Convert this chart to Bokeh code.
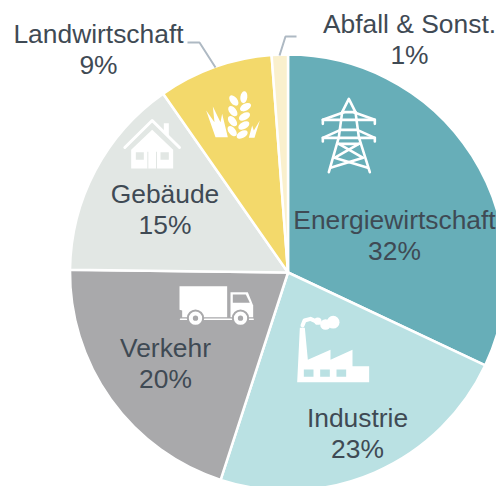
from math import pi
from bokeh.plotting import figure
from bokeh.models import Range1d
from bokeh.core.properties import value
from bokeh.embed import file_html
from bokeh.resources import INLINE

categories = ["Energiewirtschaft", "Industrie", "Verkehr", "Gebäude", "Landwirtschaft", "Abfall & Sonst."]
shares = [32.0, 23.0, 20.2, 15.1, 8.5, 1.2]
share_labels = ["32%", "23%", "20%", "15%", "9%", "1%"]
colors = ["#67AEB8", "#BAE1E3", "#A9A9AB", "#E2E7E4", "#F3D96B", "#FAF0CD"]
label_pos = [(394, 219), (357, 417), (165, 347), (164.5, 193), (98, 33), (409, 23)]
TEXT = "#3F4A54"
CX, CY, R = 287.5, 272, 218

W, H = 496, 486
p = figure(width=W, height=H, x_range=Range1d(0, 496), y_range=Range1d(486, 0),
           output_backend="svg", toolbar_location=None, min_border=0, outline_line_color=None,
           background_fill_color="white", border_fill_color="white")
p.axis.visible = False
p.grid.visible = False

cum = 0
total = sum(shares)
starts, ends = [], []
for s in shares:
    starts.append(pi / 2 - 2 * pi * cum / total)
    cum += s
    ends.append(pi / 2 - 2 * pi * cum / total)
p.wedge(x=[CX] * 6, y=[CY] * 6, radius=R, start_angle=starts, end_angle=ends, direction="clock",
        fill_color=colors, line_color="white", line_width=2.5)

# leader lines
p.line([187, 199, 215], [42, 42, 67], line_color="#AEB9C3", line_width=2)
p.line([296, 285, 279], [36, 36, 55], line_color="#AEB9C3", line_width=2)

WHITE = "white"
def zoomed(ox, oy, pts):
    return [ox + a / 3 for a, b in pts], [oy + b / 3 for a, b in pts]
def poly(ox, oy, pts, color=WHITE):
    xs, ys = zoomed(ox, oy, pts)
    p.patch(xs, ys, fill_color=color, line_color=None)
def stroke(ox, oy, pts, w=2.6, color=WHITE):
    xs, ys = zoomed(ox, oy, pts)
    p.line(xs, ys, line_color=color, line_width=w, line_join="round", line_cap="round")
def circle(ox, oy, c, r, color=WHITE):
    p.circle([ox + c[0] / 3], [oy + c[1] / 3], radius=r / 3, fill_color=color, line_color=None)

# pylon icon
for pts in [
    [(145, 275), (175, 170), (185, 95), (205, 55), (225, 95), (235, 170), (268, 275)],
    [(127, 130), (127, 118), (190, 95)], [(283, 130), (283, 118), (220, 95)], [(127, 118), (283, 118)],
    [(127, 183), (127, 172), (180, 148)], [(283, 183), (283, 172), (230, 148)], [(127, 172), (283, 172)],
    [(185, 95), (225, 95)], [(180, 148), (230, 148)],
    [(175, 190), (248, 232), (150, 262)], [(235, 190), (162, 232), (262, 262)], [(175, 190), (235, 190)],
]:
    stroke(280, 80, pts)

# house icon
H_BG = colors[3]
stroke(110, 80, [(43, 201), (125, 120), (207, 201)], 3)
poly(110, 80, [(160, 128), (175, 128), (175, 170), (160, 155)])
poly(110, 80, [(62, 208), (125, 148), (188, 208), (188, 264), (62, 264)])
poly(110, 80, [(76, 215), (100, 215), (100, 238), (76, 238)], H_BG)
poly(110, 80, [(150, 215), (175, 215), (175, 238), (150, 238)], H_BG)
stroke(110, 80, [(112, 215), (112, 264)], 1, H_BG)
stroke(110, 80, [(138, 215), (138, 264)], 1, H_BG)

# wheat icon
grains = [(370, 60, 0.9), (367, 92, 0.9), (366, 122, 0.9), (365, 152, 0.9),
          (400, 50, 1.7), (405, 80, -0.5), (402, 108, -0.5), (400, 135, -0.5), (395, 162, -0.5)]
p.ellipse([110 + g[0] / 3 for g in grains], [80 + g[1] / 3 for g in grains], width=12, height=7,
          angle=[-g[2] for g in grains], fill_color=WHITE, line_color=None)
poly(110, 80, [(287, 90), (312, 125), (307, 78), (330, 125), (335, 100), (352, 170), (315, 170)])
poly(110, 80, [(448, 120), (432, 172), (415, 172), (425, 135), (430, 150)])

# truck icon
G = colors[2]
poly(170, 270, [(27, 47), (170, 47), (170, 140), (35, 140), (35, 120), (27, 118)])
poly(170, 270, [(180, 65), (232, 65), (248, 105), (248, 140), (180, 140)])
poly(170, 270, [(187, 72), (226, 72), (238, 97), (187, 97)], G)
stroke(170, 270, [(30, 146), (248, 146)], 1.5)
for c in [(75, 143), (210, 143)]:
    circle(170, 270, c, 26, G)
    circle(170, 270, c, 20, WHITE)
    circle(170, 270, c, 8, G)

# factory icon
L = colors[1]
poly(170, 270, [(388, 172), (403, 172), (412, 268), (480, 238), (480, 268), (546, 238), (546, 287),
                (596, 287), (596, 335), (380, 335)])
for x0 in (400, 449, 498):
    poly(170, 270, [(x0, 297), (x0 + 29, 297), (x0 + 29, 319), (x0, 319)], L)
stroke(170, 270, [(396, 165), (402, 150), (420, 145), (435, 152)], 4)
circle(170, 270, (442, 152), 11)
circle(170, 270, (465, 162), 16)
circle(170, 270, (488, 155), 19)

# labels
for name, share, (x, y) in zip(categories, share_labels, label_pos):
    p.text([x], [y], text=[name], text_align="center", text_baseline="middle",
           text_font=value("Liberation Sans"), text_font_size="26.4px", text_color=TEXT)
    p.text([x], [y + 31], text=[share], text_align="center", text_baseline="middle",
           text_font=value("Liberation Sans"), text_font_size="26.4px", text_color=TEXT)

open("out.html", "w").write(file_html(p, INLINE))
